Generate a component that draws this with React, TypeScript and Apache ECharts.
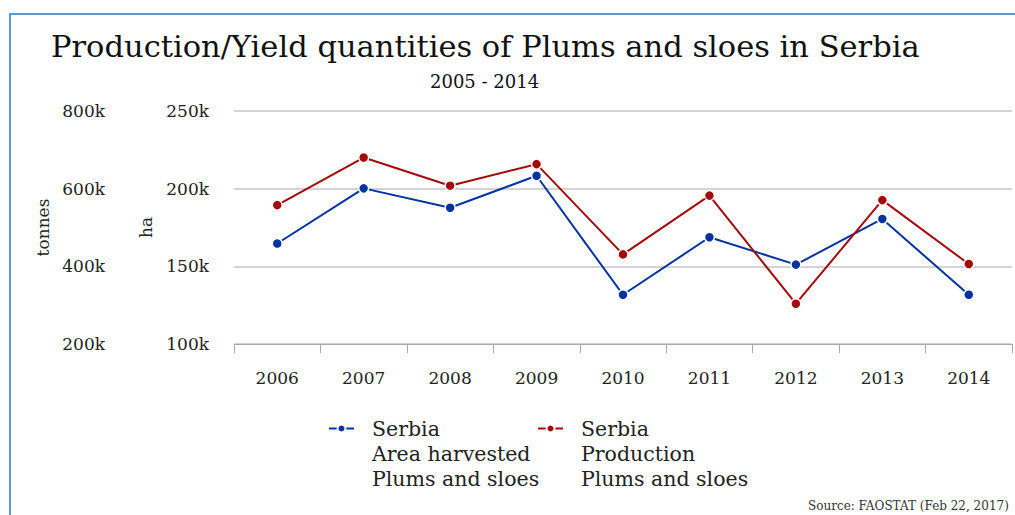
import React, { useEffect, useRef } from "react";
import * as echarts from "echarts";

const years = ["2006", "2007", "2008", "2009", "2010", "2011", "2012", "2013", "2014"];
const areaHarvested = [164700, 200200, 187700, 208300, 131700, 168700, 151100, 180500, 131700];
const production = [557600, 680200, 607700, 663100, 430700, 582100, 303700, 570400, 405900];
const areaName = "Serbia\nArea harvested\nPlums and sloes";
const prodName = "Serbia\nProduction\nPlums and sloes";
const titleText = "Production/Yield quantities of Plums and sloes in Serbia";
const subtitleText = "2005 - 2014";
const sourceText = "Source: FAOSTAT (Feb 22, 2017)";

const FONT = "DejaVu Serif";
const BLUE = "#0033a0";
const RED = "#a30a0a";

const kFmt = (v: number) => `${Math.round(v / 1000)}k`;

const legendBase = {
  top: 366,
  padding: 0,
  itemGap: 0,
  itemWidth: 25,
  itemHeight: 10,
  formatter: (name: string) => "\n\n" + name,
  textStyle: {
    fontFamily: FONT,
    fontSize: 20.5,
    lineHeight: 25,
    color: "#222",
    padding: [0, 0, 0, 13],
  },
};

export default function App() {
  const ref = useRef<HTMLDivElement>(null);
  useEffect(() => {
    if (!ref.current) return;
    const chart = echarts.init(ref.current, undefined, { renderer: "svg" });
    chart.setOption({
      animation: false,
      backgroundColor: "#ffffff",
      textStyle: { fontFamily: FONT },
      title: [
        {
          text: titleText,
          left: 46,
          top: 26,
          textStyle: { fontFamily: FONT, fontSize: 30.5, fontWeight: "normal", color: "#111" },
        },
        {
          text: subtitleText,
          left: 425,
          top: 67,
          textStyle: { fontFamily: FONT, fontSize: 18, fontWeight: "normal", color: "#111" },
        },
      ],
      grid: { left: 234, right: 3, top: 111, bottom: 171, containLabel: false },
      legend: [
        { ...legendBase, left: 328, data: [areaName] },
        { ...legendBase, left: 537, data: [prodName] },
      ],
      xAxis: {
        type: "category",
        data: years,
        boundaryGap: true,
        axisLine: { lineStyle: { color: "#aaaaaa", width: 1 } },
        axisTick: { show: true, length: 9, lineStyle: { color: "#aaaaaa" } },
        axisLabel: { fontFamily: FONT, fontSize: 17, color: "#222", margin: 25 },
      },
      yAxis: [
        {
          type: "value",
          name: "ha",
          nameLocation: "middle",
          nameGap: 80,
          nameRotate: 90,
          nameTextStyle: { fontFamily: FONT, fontSize: 17, color: "#222" },
          min: 100000,
          max: 250000,
          interval: 50000,
          position: "left",
          axisLine: { show: false },
          axisTick: { show: false },
          axisLabel: { fontFamily: FONT, fontSize: 17, color: "#222", margin: 25, formatter: kFmt },
          splitLine: { show: true, lineStyle: { color: "#c4c4c4", width: 1.5 } },
        },
        {
          type: "value",
          name: "tonnes",
          nameLocation: "middle",
          nameGap: 79,
          nameRotate: 90,
          nameTextStyle: { fontFamily: FONT, fontSize: 17, color: "#222" },
          min: 200000,
          max: 800000,
          interval: 200000,
          position: "left",
          offset: 104,
          axisLine: { show: false },
          axisTick: { show: false },
          axisLabel: { fontFamily: FONT, fontSize: 17, color: "#222", margin: 25, formatter: kFmt },
          splitLine: { show: false },
        },
      ],
      series: [
        {
          name: areaName,
          type: "line",
          yAxisIndex: 0,
          data: areaHarvested,
          symbol: "circle",
          symbolSize: 10,
          lineStyle: { color: BLUE, width: 2 },
          itemStyle: { color: BLUE, borderColor: "#ffffff", borderWidth: 1.5 },
        },
        {
          name: prodName,
          type: "line",
          yAxisIndex: 1,
          data: production,
          symbol: "circle",
          symbolSize: 10,
          lineStyle: { color: RED, width: 2 },
          itemStyle: { color: RED, borderColor: "#ffffff", borderWidth: 1.5 },
        },
      ],
      graphic: [
        {
          type: "rect",
          shape: { x: 10, y: 14, width: 1100, height: 600 },
          style: { fill: "none", stroke: "#5b9bd5", lineWidth: 2 },
          silent: true,
        },
        {
          type: "text",
          x: 808,
          y: 500,
          style: { text: sourceText, font: `12px "${FONT}"`, fill: "#333" },
          silent: true,
        },
      ],
    });
    return () => chart.dispose();
  }, []);
  return (
    <div
      ref={ref}
      style={{ position: "absolute", left: 0, top: 0, width: 1015, height: 515 }}
    />
  );
}
